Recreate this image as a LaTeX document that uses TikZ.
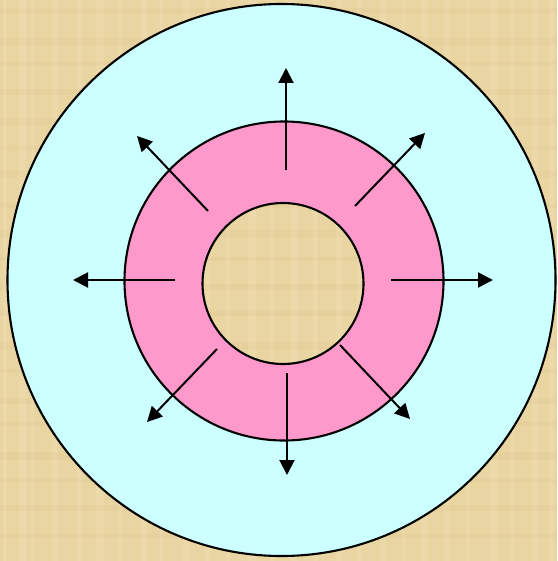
\documentclass[tikz,border=0pt]{standalone}
\usetikzlibrary{arrows.meta}
\definecolor{parch}{RGB}{233,213,162}
\definecolor{parchlight}{RGB}{242,228,186}
\definecolor{parchdark}{RGB}{220,196,138}
\definecolor{skyc}{RGB}{204,255,255}
\definecolor{pinkc}{RGB}{255,153,204}
\tikzset{
  ring/.style={draw=black, line width=2.1pt},
  flow/.style={draw=black, line width=2pt, -{Triangle[length=15pt,width=15pt]}},
  paper/.pic={
    \fill[parch] (0,0) rectangle (557,561);
    \foreach \i/\w in {3/4,19/7,31/3,52/6,77/5,96/8,118/4,141/6,160/3,183/7,205/5,226/4,248/8,270/3,291/6,313/5,336/7,357/4,380/6,402/3,421/7,444/5,466/4,489/8,511/3,532/6,549/5} {
      \fill[parchlight, opacity=0.3] (\i,0) rectangle ++(\w,561);
    }
    \foreach \j/\h in {8/5,37/8,61/4,89/6,118/7,146/4,171/6,203/5,229/8,257/4,284/6,311/5,342/7,369/4,398/6,421/5,452/8,479/4,505/6,533/5} {
      \fill[parchdark, opacity=0.18] (0,\j) rectangle ++(557,\h);
    }
  }
}
\begin{document}
\begin{tikzpicture}[x=1pt,y=-1pt]
  \useasboundingbox (0,0) rectangle (557,561);
  % parchment background
  \pic at (0,0) {paper};
  % big cyan disc
  \filldraw[ring, fill=skyc] (281.5,280) ellipse [x radius=274, y radius=276];
  % pink annulus
  \filldraw[ring, fill=pinkc] (284,281) circle [radius=159.5];
  % inner hole showing background
  \begin{scope}
    \clip (283,283.5) circle [radius=80.5];
    \pic at (0,0) {paper};
  \end{scope}
  \draw[ring] (283,283.5) circle [radius=80.5];
  % arrow end points
  \coordinate (nS) at (286,170);  \coordinate (nE) at (286,68);
  \coordinate (sS) at (287,373);  \coordinate (sE) at (287,475);
  \coordinate (wS) at (175,280);  \coordinate (wE) at (73,280);
  \coordinate (eS) at (391,280);  \coordinate (eE) at (493,280);
  \coordinate (nwS) at (208,211); \coordinate (nwE) at (137,136);
  \coordinate (neS) at (355,206); \coordinate (neE) at (425,133);
  \coordinate (swS) at (217,349); \coordinate (swE) at (147,422);
  \coordinate (seS) at (340,345); \coordinate (seE) at (410,419);
  \foreach \d in {n,s,w,e,nw,ne,sw,se} {
    \draw[flow] (\d S) -- (\d E);
  }
\end{tikzpicture}
\end{document}
